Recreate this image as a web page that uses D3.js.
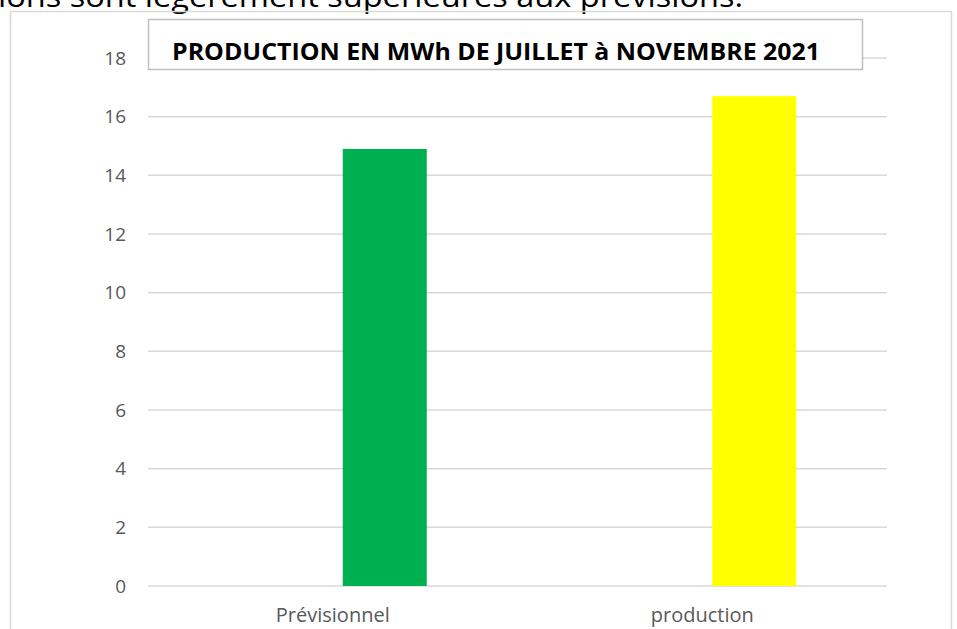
<!DOCTYPE html>
<html lang="fr">
<head>
<meta charset="UTF-8">
<title>Production en MWh de juillet à novembre 2021</title>
<script src="https://d3js.org/d3.v7.min.js"></script>
<style>
  html, body { margin: 0; padding: 0; background: #fff; overflow: hidden; }
  svg text { font-family: "Open Sans", sans-serif; }
</style>
</head>
<body>
<svg id="chart" width="957" height="629"></svg>
<script>
// data
const categories = ["Prévisionnel", "production"];
const values = [14.9, 16.7];
const barColors = ["#00b050", "#ffff00"];
const yTicks = [0, 2, 4, 6, 8, 10, 12, 14, 16, 18];
const chartTitle = "PRODUCTION EN MWh DE JUILLET à NOVEMBRE 2021";
const caption = "ions sont légèrement supérieures aux prévisions.";

const plot = {left: 148, right: 887, top: 58, bottom: 586};

const svg = d3.select("#chart");

// sentence from the page above the chart, clipped by the top edge
svg.append("text")
    .attr("x", 743).attr("y", 7)
    .attr("text-anchor", "end")
    .attr("font-size", 29)
    .attr("fill", "#000")
    .attr("textLength", 745)
    .attr("lengthAdjust", "spacingAndGlyphs")
    .text(caption);

// chart area border
svg.append("rect")
    .attr("x", 10.5).attr("y", 11.5)
    .attr("width", 941).attr("height", 640)
    .attr("fill", "none")
    .attr("stroke", "#d9d9d9")
    .attr("stroke-width", 1.5);

const x = d3.scaleBand()
    .domain(categories)
    .range([plot.left, plot.right]);

const y = d3.scaleLinear()
    .domain([0, 18])
    .range([plot.bottom, plot.top]);

// gridlines
svg.append("g")
    .selectAll("line")
    .data(yTicks)
    .join("line")
    .attr("x1", plot.left).attr("x2", plot.right)
    .attr("y1", d => y(d)).attr("y2", d => y(d))
    .attr("stroke", "#d9d9d9")
    .attr("stroke-width", 1.5);

// y axis labels
const yAxis = svg.append("g")
    .attr("transform", `translate(126,0)`)
    .call(d3.axisLeft(y).tickValues(yTicks).tickSize(0).tickPadding(0));
yAxis.select(".domain").remove();
yAxis.selectAll("text")
    .attr("font-size", 19)
    .attr("fill", "#595959")
    .attr("font-family", "'Open Sans', sans-serif");

// bars (offset right of the category centre, like the original)
const barW = 84, barShift = 10;
svg.append("g")
    .selectAll("rect")
    .data(values)
    .join("rect")
    .attr("x", (d, i) => x(categories[i]) + x.bandwidth() / 2 + barShift)
    .attr("y", d => y(d))
    .attr("width", barW)
    .attr("height", d => y(0) - y(d))
    .attr("fill", (d, i) => barColors[i]);

// category labels
const xAxis = svg.append("g")
    .attr("transform", `translate(0,${plot.bottom + 22})`)
    .call(d3.axisBottom(x).tickSize(0).tickPadding(0));
xAxis.select(".domain").remove();
xAxis.selectAll("text")
    .attr("font-size", 20)
    .attr("fill", "#595959")
    .attr("font-family", "'Open Sans', sans-serif");

// title box
svg.append("rect")
    .attr("x", 148.5).attr("y", 19.5)
    .attr("width", 714).attr("height", 50)
    .attr("fill", "#fff")
    .attr("stroke", "#bfbfbf")
    .attr("stroke-width", 1.5);

svg.append("text")
    .attr("x", 172).attr("y", 60)
    .attr("font-size", 24)
    .attr("font-weight", "bold")
    .attr("fill", "#000")
    .attr("textLength", 648)
    .attr("lengthAdjust", "spacingAndGlyphs")
    .text(chartTitle);
</script>
</body>
</html>
